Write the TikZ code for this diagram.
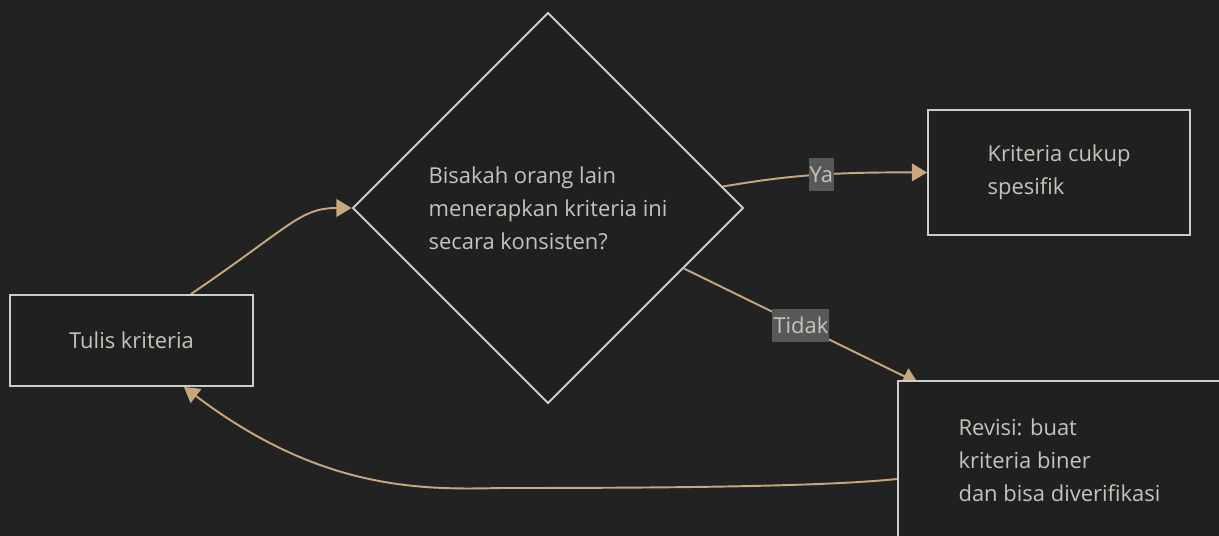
\documentclass[tikz,border=0pt]{standalone}
\usepackage{fontspec}
\setmainfont{Open Sans}
\usetikzlibrary{shapes.geometric, arrows.meta}
\definecolor{bgcol}{HTML}{222222}
\definecolor{boxfill}{HTML}{1F2020}
\definecolor{boxline}{HTML}{CCCCCC}
\definecolor{txtcol}{HTML}{C8C3BA}
\definecolor{edgecol}{HTML}{C9A77D}
\definecolor{lblfill}{HTML}{585858}
\pgfdeclarelayer{edges}
\pgfsetlayers{edges,main}
\tikzset{
  box/.style={draw=boxline, line width=1.1pt, fill=boxfill, text=txtcol, align=left,
    font=\fontsize{12.5}{18.7}\selectfont},
  decision/.style={box, diamond, aspect=1, inner sep=0pt},
  edge/.style={draw=edgecol, line width=1.1pt, -{Triangle[length=8.6pt,width=10pt]}},
  lbl/.style={fill=lblfill, text=txtcol, inner xsep=0.6pt, inner ysep=0pt, minimum height=18.7pt,
    font=\fontsize{12.5}{13}\selectfont}
}

\begin{document}
\begin{tikzpicture}[x=0.02cm, y=-0.02cm]
\useasboundingbox (0,0) rectangle (1219,536);
\node[box, minimum width=4.86cm, minimum height=1.82cm] (tulis) at (131.5,340.5) {Tulis kriteria};
\node[decision, minimum width=7.82cm, minimum height=7.82cm] (cek) at (548,208)
  {Bisakah orang lain\\menerapkan kriteria ini\\secara konsisten?};
\node[box, minimum width=5.24cm, minimum height=2.5cm] (cukup) at (1059,172.5) {Kriteria cukup\\spesifik};
\node[box, minimum width=6.46cm, minimum height=3.18cm] (revisi) at (1059.5,460.5)
  {Revisi: buat\\kriteria biner\\dan bisa diverifikasi};
\coordinate (tidakujung) at (918,383);
\begin{pgfonlayer}{edges}
\fill[bgcol] (0,0) rectangle (1219,536);
\draw[edge] ([xshift=1.19cm]tulis.north) .. controls (291,226) and (300,208) .. (cek.west);
\draw[edge] (cek.7.5) .. controls (780,177) and (820,172) .. node[lbl, pos=0.58] {Ya} (cukup.west);
\draw[edge] (cek.-24) -- node[lbl] {Tidak} (tidakujung);
\draw[edge] ([yshift=-0.37cm]revisi.west) .. controls (820,487) and (650,488) .. (500,488)
  .. controls (420,490) and (320,490) .. ([xshift=1.05cm]tulis.south);
\end{pgfonlayer}
\end{tikzpicture}
\end{document}
